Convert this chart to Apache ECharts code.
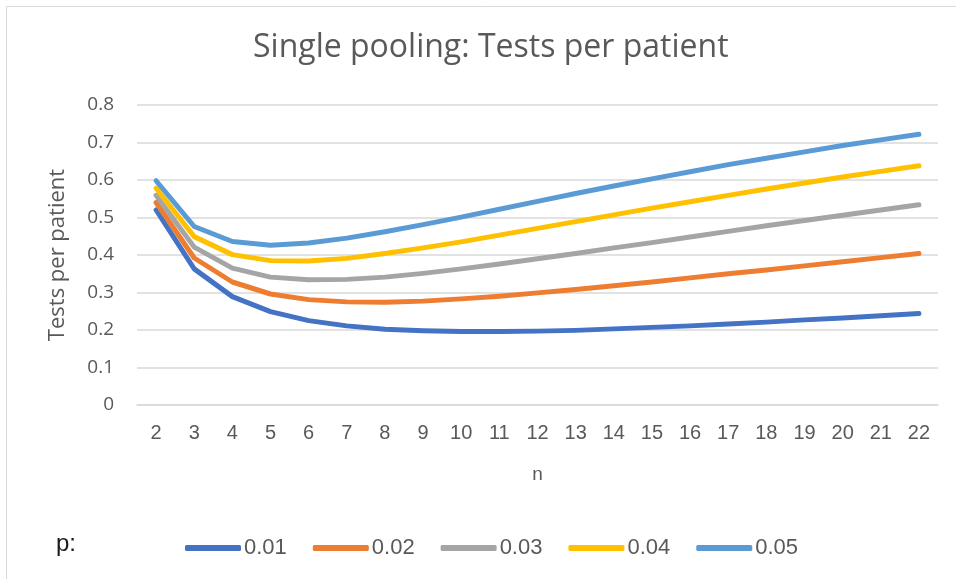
<!DOCTYPE html>
<html>
<head>
<meta charset="utf-8">
<script src="https://cdn.jsdelivr.net/npm/echarts@6/dist/echarts.min.js"></script>
<style>
  html, body { margin: 0; padding: 0; background: #fff; }
  #chart { width: 956px; height: 579px; }
</style>
</head>
<body>
<div id="chart"></div>
<script>
// pool size n
const poolSizes = ['2','3','4','5','6','7','8','9','10','11','12','13','14','15','16','17','18','19','20','21','22'];
const seriesNames = ['0.01', '0.02', '0.03', '0.04', '0.05'];
const seriesColors = ['#4472C4', '#ED7D31', '#A5A5A5', '#FFC000', '#5B9BD5'];

// tests per patient
const p001 = [0.520, 0.363, 0.289, 0.249, 0.225, 0.211, 0.202, 0.198, 0.196, 0.196, 0.197, 0.199, 0.203, 0.207, 0.211, 0.216, 0.221, 0.227, 0.232, 0.238, 0.244];
const p002 = [0.540, 0.392, 0.328, 0.296, 0.281, 0.275, 0.274, 0.277, 0.283, 0.290, 0.299, 0.308, 0.318, 0.328, 0.339, 0.350, 0.360, 0.371, 0.382, 0.393, 0.404];
const p003 = [0.559, 0.421, 0.365, 0.341, 0.334, 0.335, 0.341, 0.351, 0.363, 0.376, 0.390, 0.404, 0.419, 0.433, 0.448, 0.463, 0.478, 0.492, 0.506, 0.520, 0.534];
const p004 = [0.578, 0.449, 0.401, 0.385, 0.384, 0.391, 0.404, 0.419, 0.435, 0.453, 0.471, 0.489, 0.507, 0.525, 0.542, 0.559, 0.576, 0.592, 0.608, 0.623, 0.638];
const p005 = [0.598, 0.476, 0.436, 0.426, 0.432, 0.445, 0.462, 0.481, 0.501, 0.522, 0.543, 0.564, 0.584, 0.603, 0.622, 0.641, 0.658, 0.675, 0.692, 0.707, 0.722];
const seriesData = [p001, p002, p003, p004, p005];

const yTicks = [0, 0.1, 0.2, 0.3, 0.4, 0.5, 0.6, 0.7, 0.8];

const textGrey = '#595959';
const chart = echarts.init(document.getElementById('chart'), null, { renderer: 'canvas' });

chart.setOption({
  backgroundColor: '#fff',
  animation: false,
  title: {
    text: 'Single pooling: Tests per patient',
    left: 248,
    top: 27,
    textStyle: { fontFamily: 'Open Sans', fontSize: 32, fontWeight: 'normal', color: textGrey },
  },
  graphic: [
    {
      // chart area border (only top and left are in view)
      type: 'rect',
      shape: { x: 6.5, y: 6.5, width: 1000, height: 1000 },
      style: { fill: 'none', stroke: '#d9d9d9', lineWidth: 1 },
      silent: true,
    },
    {
      type: 'text',
      left: 56,
      top: 532,
      style: { text: 'p:', fontFamily: 'Liberation Sans', fontSize: 24, fill: '#1a1a1a' },
    },
  ],
  legend: {
    data: seriesNames,
    left: 180,
    top: 532,
    itemWidth: 56,
    itemHeight: 6,
    itemGap: 26,
    icon: 'roundRect',
    textStyle: { fontFamily: 'Liberation Sans', fontSize: 22, color: textGrey, padding: [0, 0, 0, -2] },
  },
  grid: { left: 137, right: 18, top: 105, bottom: 174 },
  xAxis: {
    type: 'category',
    data: poolSizes,
    boundaryGap: true,
    name: 'n',
    nameLocation: 'middle',
    nameGap: 60,
    nameTextStyle: { fontFamily: 'Liberation Sans', fontSize: 19, color: textGrey },
    axisLine: { show: true, lineStyle: { color: '#d9d9d9', width: 1.5 } },
    axisTick: { show: false },
    axisLabel: { fontFamily: 'Liberation Sans', fontSize: 20, color: textGrey, margin: 18 },
  },
  yAxis: {
    type: 'value',
    min: yTicks[0],
    max: yTicks[yTicks.length - 1],
    interval: 0.1,
    name: 'Tests per patient',
    nameLocation: 'middle',
    nameGap: 68,
    nameRotate: 90,
    nameTextStyle: { fontFamily: 'Open Sans', fontSize: 22, color: textGrey },
    axisLine: { show: false },
    axisTick: { show: false },
    axisLabel: {
      fontFamily: 'Open Sans',
      fontSize: 19,
      color: textGrey,
      margin: 23,
      formatter: (v) => (Math.round(v * 10) / 10).toString(),
    },
    splitLine: { lineStyle: { color: '#d9d9d9', width: 1.5 } },
  },
  series: seriesNames.map((name, i) => ({
    name,
    type: 'line',
    data: seriesData[i],
    color: seriesColors[i],
    showSymbol: false,
    symbol: 'none',
    lineStyle: { width: 5, cap: 'round', join: 'round' },
  })),
});
</script>
</body>
</html>
